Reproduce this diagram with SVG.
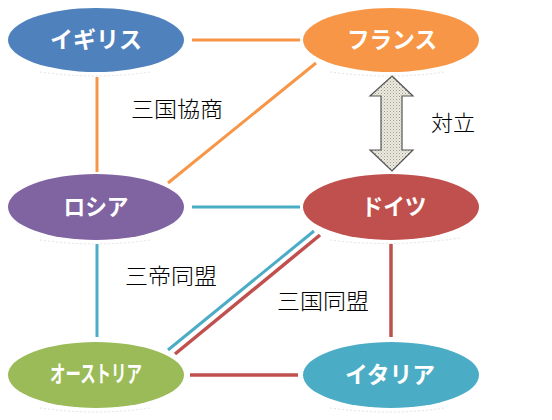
<svg xmlns="http://www.w3.org/2000/svg" width="552" height="420" viewBox="0 0 552 420">
<defs>
<style>
.lbl{font-family:"Noto Sans CJK JP","Noto Sans CJK SC",sans-serif;font-size:22px;fill:#000;font-weight:300}
.nt{font-family:"Noto Sans CJK JP","Noto Sans CJK SC",sans-serif;font-size:23px;fill:#fff;font-weight:bold}
.o{stroke:#F79646;stroke-width:3;fill:none}
.t{stroke:#4BACC6;stroke-width:3;fill:none}
.r{stroke:#C0504D;stroke-width:3.5;fill:none}
.refl{fill:none;stroke:#c8c8c8;stroke-width:1;stroke-dasharray:2 2;opacity:0.5}
</style>
<pattern id="dots" width="3" height="3" patternUnits="userSpaceOnUse">
<rect width="3" height="3" fill="#EEECE1"/>
<rect x="0" y="0" width="1" height="1" fill="#9a9890"/>
<rect x="1.5" y="1.5" width="1" height="1" fill="#b0ada4"/>
</pattern>
</defs>
<rect width="552" height="420" fill="#fff"/>
<g id="connectors">
<line class="o" x1="192" y1="40" x2="300" y2="40"/>
<line class="o" x1="97" y1="77" x2="97" y2="172"/>
<line class="o" x1="168" y1="183" x2="316" y2="63"/>
<line class="t" x1="192" y1="207" x2="300" y2="207"/>
<line class="t" x1="97" y1="244" x2="97" y2="337"/>
<line class="t" x1="168" y1="350" x2="314" y2="231"/>
<line class="r" x1="175" y1="354" x2="320" y2="235"/>
<line class="r" x1="391" y1="244" x2="391" y2="337"/>
<line class="r" x1="190" y1="375" x2="298" y2="375"/>
<polygon points="392,76 413,96 402,96 402,150 413,150 392,171 370,150 381,150 381,96 370,96" fill="url(#dots)" stroke="#555" stroke-width="1.2" stroke-linejoin="miter"/>
</g>
<g id="labels">
<text class="lbl" x="131" y="117" textLength="92" lengthAdjust="spacingAndGlyphs">三国協商</text>
<text class="lbl" x="431" y="131" textLength="44" lengthAdjust="spacingAndGlyphs">対立</text>
<text class="lbl" x="125" y="284" textLength="92" lengthAdjust="spacingAndGlyphs">三帝同盟</text>
<text class="lbl" x="277" y="309" textLength="92" lengthAdjust="spacingAndGlyphs">三国同盟</text>
</g>
<g id="igirisu">
<ellipse cx="96" cy="40" rx="88" ry="32" fill="#4F81BD"/>
<path class="refl" d="M40,72 Q96,80 150,72"/>
<text class="nt" x="96" y="48" text-anchor="middle" textLength="92" lengthAdjust="spacingAndGlyphs">イギリス</text>
</g>
<g id="france">
<ellipse cx="391" cy="40" rx="88" ry="32" fill="#F79646"/>
<path class="refl" d="M330,72 Q391,80 445,72"/>
<text class="nt" x="392" y="48" text-anchor="middle" textLength="90" lengthAdjust="spacingAndGlyphs">フランス</text>
</g>
<g id="russia">
<ellipse cx="96" cy="207" rx="88" ry="33" fill="#8064A2"/>
<path class="refl" d="M40,240 Q96,248 150,240"/>
<text class="nt" x="96" y="215" text-anchor="middle" textLength="65" lengthAdjust="spacingAndGlyphs">ロシア</text>
</g>
<g id="germany">
<ellipse cx="391" cy="207" rx="88" ry="33" fill="#C0504D"/>
<path class="refl" d="M330,240 Q391,248 460,238"/>
<text class="nt" x="394" y="215" text-anchor="middle" textLength="65" lengthAdjust="spacingAndGlyphs">ドイツ</text>
</g>
<g id="austria">
<ellipse cx="96" cy="375" rx="88" ry="33" fill="#9BBB59"/>
<path class="refl" d="M40,408 Q96,416 150,408"/>
<text class="nt" x="96" y="382" text-anchor="middle" font-size="20" textLength="92" lengthAdjust="spacingAndGlyphs">オーストリア</text>
</g>
<g id="italy">
<ellipse cx="391" cy="375" rx="88" ry="33" fill="#4BACC6"/>
<path class="refl" d="M330,408 Q391,416 445,408"/>
<text class="nt" x="390" y="383" text-anchor="middle" textLength="90" lengthAdjust="spacingAndGlyphs">イタリア</text>
</g>
</svg>
